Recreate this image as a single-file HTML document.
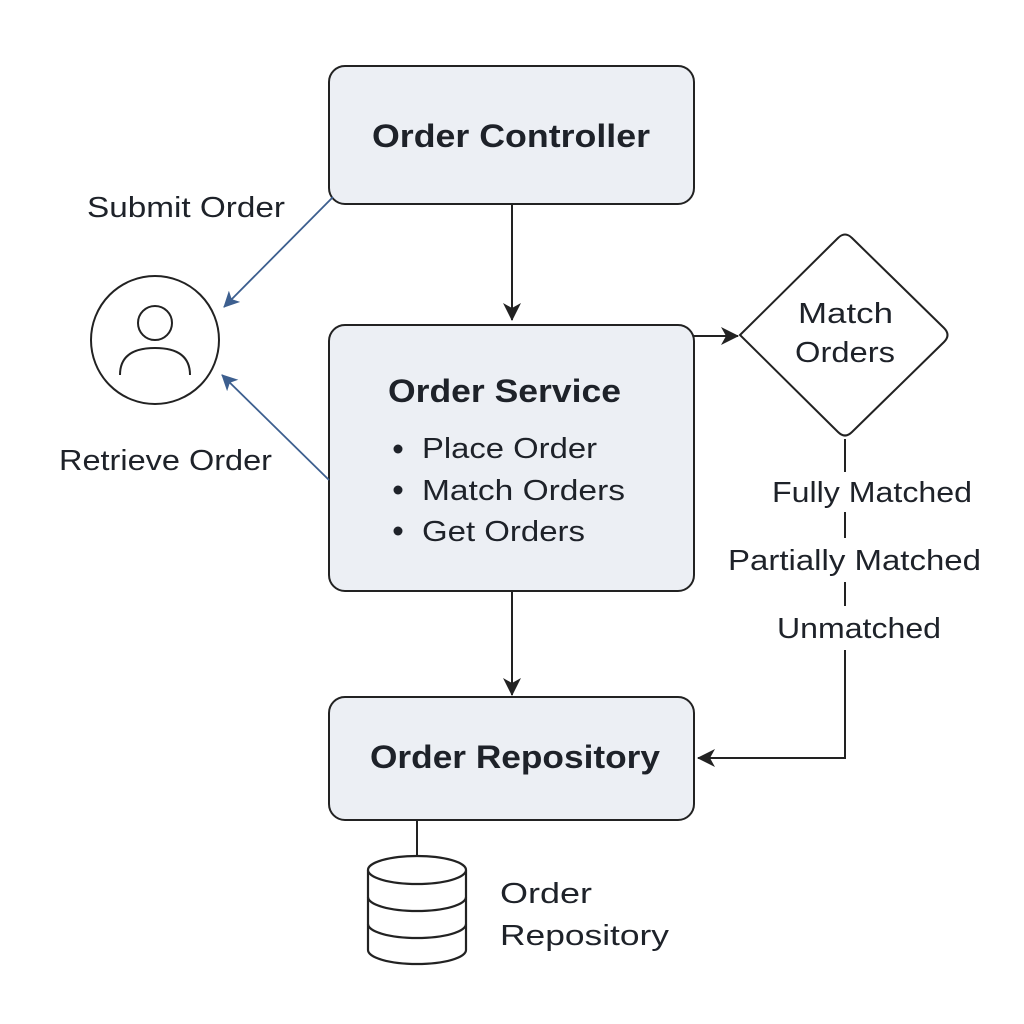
<!DOCTYPE html>
<html><head><meta charset="utf-8"><style>
html,body{margin:0;padding:0;background:#fff;}
svg{display:block;}
text{font-family:"Liberation Sans","DejaVu Sans",sans-serif;fill:#1e2229;}
.t{font-weight:bold;font-size:32px;}
.n{font-size:29px;}
</style></head><body>
<svg width="1024" height="1024" viewBox="0 0 1024 1024" xmlns="http://www.w3.org/2000/svg">
<defs>
<marker id="ab" markerWidth="16" markerHeight="16" refX="15" refY="8" orient="auto" markerUnits="userSpaceOnUse" viewBox="0 0 16 16">
<path d="M0,0 L16,8 L0,16 L4,8 z" fill="#3d5f8f"/></marker>
<marker id="ak2" markerWidth="18" markerHeight="18" refX="17" refY="9" orient="auto" markerUnits="userSpaceOnUse" viewBox="0 0 18 18">
<path d="M0,0 L18,9 L0,18 L5,9 z" fill="#222"/></marker>
</defs>
<g fill="#eceff4" stroke="#222" stroke-width="2">
<rect x="329" y="66" width="365" height="138" rx="16"/>
<rect x="329" y="325" width="365" height="266" rx="16"/>
<rect x="329" y="697" width="365" height="123" rx="16"/>
</g>
<path d="M740,335 L838,238 Q845,231 852,238 L944,328 Q951,335 944,342 L852,432 Q845,439 838,432 Z" fill="#fff" stroke="#222" stroke-width="2"/>
<g stroke="#222" stroke-width="2" fill="none">
<line x1="512" y1="204" x2="512" y2="320" marker-end="url(#ak2)"/>
<line x1="512" y1="591" x2="512" y2="695" marker-end="url(#ak2)"/>
<line x1="694" y1="336" x2="738" y2="336" marker-end="url(#ak2)"/>
<line x1="845" y1="439" x2="845" y2="472"/>
<line x1="845" y1="512" x2="845" y2="538"/>
<line x1="845" y1="582" x2="845" y2="606"/>
<path d="M845,650 L845,758 L698,758" marker-end="url(#ak2)"/>
<line x1="417" y1="820" x2="417" y2="856"/>
</g>
<g stroke="#3d5f8f" stroke-width="1.8">
<line x1="333" y1="197" x2="224" y2="307" marker-end="url(#ab)"/>
<line x1="329" y1="480" x2="222" y2="375" marker-end="url(#ab)"/>
</g>
<g stroke="#222" stroke-width="2" fill="none">
<circle cx="155" cy="340" r="64"/>
<circle cx="155" cy="323" r="17"/>
<path d="M120,375 Q120,348 155,348 Q190,348 190,375"/>
</g>
<g stroke="#222" stroke-width="2.2" fill="#fff">
<path d="M368,870 L368,950 A49,14 0 0 0 466,950 L466,870"/>
<ellipse cx="417" cy="870" rx="49" ry="14"/>
<path d="M368,897 A49,14 0 0 0 466,897" fill="none"/>
<path d="M368,924 A49,14 0 0 0 466,924" fill="none"/>
</g>
<g fill="#1e2229"><circle cx="398" cy="449" r="4.5"/><circle cx="398" cy="490" r="4.5"/><circle cx="398" cy="531" r="4.5"/></g>
<text class="t" x="372" y="147" textLength="278" lengthAdjust="spacingAndGlyphs">Order Controller</text>
<text class="t" x="388" y="402" textLength="233" lengthAdjust="spacingAndGlyphs">Order Service</text>
<text class="n" x="422" y="458" textLength="175" lengthAdjust="spacingAndGlyphs">Place Order</text>
<text class="n" x="422" y="500" textLength="203" lengthAdjust="spacingAndGlyphs">Match Orders</text>
<text class="n" x="422" y="541" textLength="163" lengthAdjust="spacingAndGlyphs">Get Orders</text>
<text class="t" x="370" y="768" textLength="290" lengthAdjust="spacingAndGlyphs">Order Repository</text>
<text class="n" x="798" y="323" textLength="95" lengthAdjust="spacingAndGlyphs">Match</text>
<text class="n" x="795" y="362" textLength="100" lengthAdjust="spacingAndGlyphs">Orders</text>
<text class="n" x="772" y="502" textLength="200" lengthAdjust="spacingAndGlyphs">Fully Matched</text>
<text class="n" x="728" y="570" textLength="253" lengthAdjust="spacingAndGlyphs">Partially Matched</text>
<text class="n" x="777" y="638" textLength="164" lengthAdjust="spacingAndGlyphs">Unmatched</text>
<text class="n" x="87" y="217" textLength="198" lengthAdjust="spacingAndGlyphs">Submit Order</text>
<text class="n" x="59" y="470" textLength="213" lengthAdjust="spacingAndGlyphs">Retrieve Order</text>
<text class="n" x="500" y="903" textLength="92" lengthAdjust="spacingAndGlyphs">Order</text>
<text class="n" x="500" y="945" textLength="169" lengthAdjust="spacingAndGlyphs">Repository</text>
</svg>
</body></html>
